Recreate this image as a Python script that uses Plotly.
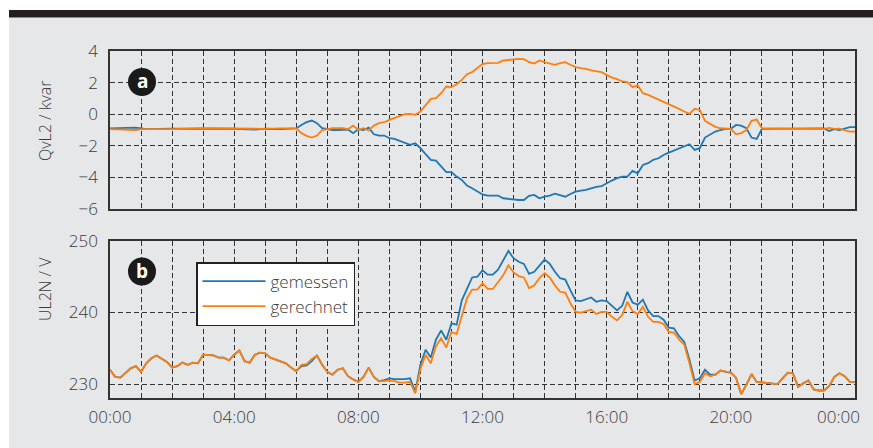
import plotly.graph_objects as go

# ---------------- data ----------------
# panel a: reactive power QvL2 (kvar)
times_a = ["00:00","00:50","01:00","01:10","02:00","03:00","03:30","04:00","04:40","05:00","05:30",
           "06:00","06:10","06:20","06:30","06:40","06:50","07:00","07:10","07:20","07:30","07:40","07:50",
           "08:00","08:10","08:20","08:30","08:40","08:50","09:00","09:10","09:20","09:30","09:40","09:50",
           "10:00","10:10","10:20","10:30","10:40","10:50","11:00","11:10","11:20","11:30","11:40","11:50",
           "12:00","12:10","12:20","12:30","12:40","12:50","13:00","13:10","13:20","13:30","13:40","13:50",
           "14:00","14:10","14:20","14:30","14:40","14:50","15:00","15:10","15:20","15:30","15:40","15:50",
           "16:00","16:10","16:20","16:30","16:40","16:50","17:00","17:10","17:20","17:30","17:40","17:50",
           "18:00","18:10","18:20","18:30","18:40","18:50","19:00","19:10","19:20","19:30","19:40","19:50",
           "20:00","20:10","20:20","20:30","20:40","20:50","21:00","22:00","23:00","23:10","23:20","23:30",
           "23:40","23:50","24:00"]
q_gemessen = [-0.90,-0.85,-0.90,-0.95,-0.92,-0.92,-0.90,-0.92,-0.98,-0.92,-0.95,
              -0.90,-0.68,-0.50,-0.40,-0.57,-0.89,-0.95,-1.00,-1.00,-0.97,-0.97,-1.20,
              -0.95,-1.00,-0.85,-1.27,-1.35,-1.35,-1.52,-1.56,-1.69,-1.84,-1.94,-1.84,
              -2.15,-2.53,-2.89,-2.94,-3.32,-3.67,-3.67,-3.95,-4.16,-4.52,-4.69,-4.90,
              -5.08,-5.15,-5.15,-5.15,-5.32,-5.36,-5.36,-5.43,-5.43,-5.17,-5.11,-5.32,
              -5.22,-5.15,-5.03,-5.13,-5.22,-5.05,-4.90,-4.84,-4.79,-4.69,-4.60,-4.56,
              -4.37,-4.20,-4.05,-3.95,-3.95,-3.59,-3.74,-3.21,-3.10,-2.89,-2.79,-2.58,
              -2.43,-2.30,-2.15,-2.00,-1.90,-2.26,-2.15,-1.48,-1.27,-1.10,-1.00,-0.93,
              -0.93,-0.68,-0.72,-0.89,-1.48,-1.56,-0.93,-0.92,-0.90,-1.06,-0.95,-1.00,
              -0.90,-0.82,-0.82]
q_gerechnet = [-0.95,-1.00,-0.95,-0.95,-0.95,-0.88,-0.90,-0.88,-0.90,-0.93,-0.90,
               -0.90,-1.20,-1.37,-1.48,-1.35,-1.00,-0.93,-0.89,-0.89,-0.89,-0.95,-0.72,
               -1.00,-0.89,-1.03,-0.72,-0.57,-0.51,-0.36,-0.25,-0.15,0.00,0.02,-0.04,
               0.17,0.55,0.97,1.01,1.33,1.75,1.71,1.90,2.17,2.53,2.66,2.92,
               3.17,3.23,3.25,3.25,3.40,3.44,3.44,3.50,3.48,3.29,3.21,3.40,
               3.29,3.23,3.13,3.23,3.29,3.13,2.98,2.91,2.87,2.77,2.70,2.66,
               2.49,2.32,2.22,2.07,2.03,1.71,1.82,1.33,1.22,1.08,0.91,0.76,
               0.63,0.49,0.34,0.17,0.02,0.34,0.27,-0.42,-0.63,-0.80,-0.89,-0.93,
               -0.93,-1.27,-1.20,-1.00,-0.42,-0.34,-0.89,-0.92,-0.93,-0.87,-0.93,-0.92,
               -1.00,-1.10,-1.10]

# panel b: voltage UL2N (V)
times_b = ["00:00","00:10","00:20","00:30","00:40","00:50","01:00","01:10","01:20","01:30","01:40","01:50",
           "02:00","02:10","02:20","02:30","02:40","02:50","03:00","03:10","03:20","03:30","03:40","03:50",
           "04:00","04:10","04:20","04:30","04:40","04:50","05:00","05:10","05:20","05:30","05:40","05:50",
           "06:00","06:10","06:20","06:30","06:40","06:50","07:00","07:10","07:20","07:30","07:40","07:50",
           "08:00","08:10","08:20","08:30","08:40","08:50","09:00","09:10","09:20","09:30","09:40","09:50",
           "10:00","10:10","10:20","10:30","10:40","10:50","11:00","11:10","11:20","11:30","11:40","11:50",
           "12:00","12:10","12:20","12:30","12:40","12:50","13:00","13:10","13:20","13:30","13:40","13:50",
           "14:00","14:10","14:20","14:30","14:40","14:50","15:00","15:10","15:20","15:30","15:40","15:50",
           "16:00","16:10","16:20","16:30","16:40","16:50","17:00","17:10","17:20","17:30","17:40","17:50",
           "18:00","18:10","18:20","18:30","18:40","18:50","19:00","19:10","19:20","19:30","19:40","19:50",
           "20:00","20:10","20:20","20:30","20:40","20:50","21:00","21:10","21:20","21:30","21:40","21:50",
           "22:00","22:10","22:20","22:30","22:40","22:50","23:00","23:10","23:20","23:30","23:40","23:50",
           "24:00"]
u_gemessen = [232.0,231.0,230.9,231.6,232.2,232.5,231.7,232.9,233.6,234.0,233.6,233.1,
              232.3,232.5,233.0,232.7,233.0,232.9,234.1,234.1,234.0,233.7,233.7,233.3,
              234.1,234.7,233.2,233.0,234.1,234.4,234.3,233.7,233.4,233.2,232.9,232.3,
              231.8,232.5,232.6,233.2,234.0,232.7,231.7,231.3,232.0,232.2,231.1,230.65,
              230.3,231.0,232.3,231.0,230.4,230.55,230.8,230.7,230.65,230.7,230.8,228.9,
              232.7,234.8,233.7,236.2,237.5,236.2,238.5,238.3,241.7,243.4,244.9,245.0,
              245.9,245.3,245.3,246.0,247.2,248.6,247.6,247.1,246.8,245.4,245.7,246.6,
              247.4,246.8,245.7,244.8,244.6,243.1,241.7,241.6,241.8,242.1,241.5,241.7,
              241.6,241.0,240.3,240.95,242.9,241.4,241.1,241.8,240.3,239.5,239.5,239.0,
              237.9,237.8,236.7,235.9,233.4,230.5,230.8,232.0,231.3,231.3,231.9,231.7,
              231.6,230.9,228.6,229.9,231.4,230.3,230.2,230.2,230.0,230.0,230.8,231.6,
              231.5,229.6,230.1,230.5,229.25,229.1,229.1,229.7,231.0,231.5,231.1,230.3,
              230.3]
u_gerechnet = [232.0,231.0,230.9,231.6,232.2,232.5,231.7,232.9,233.6,234.0,233.6,233.1,
               232.3,232.5,233.0,232.7,233.0,232.9,234.1,234.1,234.0,233.7,233.7,233.3,
               234.1,234.7,233.2,233.0,234.1,234.4,234.3,233.7,233.4,233.2,232.9,232.3,
               231.8,232.7,232.8,233.5,234.0,232.7,231.7,231.3,232.0,232.2,231.1,230.65,
               230.3,231.0,232.3,231.0,230.4,230.4,230.5,230.4,230.2,230.2,230.3,228.7,
               232.1,234.1,232.9,235.3,236.4,235.1,237.3,237.0,239.4,242.0,243.2,243.2,
               244.1,243.3,243.3,244.2,245.2,246.6,245.6,245.1,244.9,243.4,243.8,244.8,
               245.5,244.9,243.8,242.9,242.8,241.3,240.1,240.0,240.2,240.4,239.8,240.1,
               240.1,239.4,238.9,239.65,241.5,240.2,239.8,240.8,239.4,238.7,238.7,238.4,
               237.3,237.2,236.2,235.5,232.9,230.0,230.3,231.5,231.1,231.3,231.9,231.7,
               231.6,230.9,228.6,229.9,231.4,230.3,230.2,230.2,230.0,230.0,230.8,231.6,
               231.5,229.6,230.1,230.5,229.25,229.1,229.1,229.7,231.0,231.5,231.1,230.3,
               230.3]

hour_ticks = list(range(0, 25))
hour_labels = [f"{h:02d}:00" if (h % 4 == 0 and h < 24) else "" for h in hour_ticks]
end_label = "00:00"   # label for 24:00, shifted inside the figure like the reference
series_names = ["gemessen", "gerechnet"]
colors = ["#1f77b4", "#ff7f0e"]

def to_hours(ts):
    out = []
    for t in ts:
        hh, mm = t.split(":")
        out.append(int(hh) + int(mm) / 60.0)
    return out

xa = to_hours(times_a)
xb = to_hours(times_b)

W, H = 873, 448
FONT = "Open Sans"
TXT = "#3a3a3a"
TF = dict(family=FONT, size=17, color=TXT, weight=300)

fig = go.Figure()
fig.add_trace(go.Scatter(x=xa, y=q_gemessen, mode="lines", line=dict(color=colors[0], width=1.8),
                         xaxis="x", yaxis="y", showlegend=False, name=series_names[0]))
fig.add_trace(go.Scatter(x=xa, y=q_gerechnet, mode="lines", line=dict(color=colors[1], width=1.8),
                         xaxis="x", yaxis="y", showlegend=False, name=series_names[1]))
fig.add_trace(go.Scatter(x=xb, y=u_gemessen, mode="lines", line=dict(color=colors[0], width=1.8),
                         xaxis="x2", yaxis="y2", name=series_names[0]))
fig.add_trace(go.Scatter(x=xb, y=u_gerechnet, mode="lines", line=dict(color=colors[1], width=1.8),
                         xaxis="x2", yaxis="y2", name=series_names[1]))

def px(x): return x / W
def py(y): return (H - y) / H

L, R = 110, 855
grid = dict(showgrid=True, gridcolor="#333333", griddash="5px,3px", gridwidth=1.1,
            showline=True, linecolor="#333333", linewidth=1.5, mirror=True, zeroline=False,
            automargin=False, ticks="", tickfont=TF)

fig.update_layout(
    width=W, height=H,
    margin=dict(l=0, r=0, t=0, b=0, pad=0),
    paper_bgcolor="white", plot_bgcolor="white",
    font=dict(family=FONT, color=TXT),
    xaxis=dict(domain=[px(L), px(R)], anchor="y", range=[0, 24], tickvals=hour_ticks,
               ticktext=[""] * len(hour_ticks), **grid),
    yaxis=dict(domain=[py(209), py(51)], anchor="x", range=[-6, 4], tickvals=[-6, -4, -2, 0, 2, 4],
               ticklabelstandoff=7, **grid),
    xaxis2=dict(domain=[px(L), px(R)], anchor="y2", range=[0, 24], tickvals=hour_ticks,
                ticktext=hour_labels, ticklabelstandoff=3, **grid),
    yaxis2=dict(domain=[py(398), py(241)], anchor="x2", range=[228.05, 250], tickvals=[230, 240, 250],
                ticklabelstandoff=7, **grid),
    legend=dict(x=px(196), y=py(262), xanchor="left", yanchor="top", bgcolor="white",
                bordercolor="#222222", borderwidth=1.5, font=TF,
                itemwidth=63, tracegroupgap=0),
)

shapes = [
    dict(type="rect", xref="paper", yref="paper", x0=px(9), x1=1.0, y0=0, y1=py(17.5),
         fillcolor="#e6e7e8", line=dict(width=0), layer="below"),
    dict(type="rect", xref="paper", yref="paper", x0=px(9), x1=1.0, y0=py(17.5), y1=py(10),
         fillcolor="#231f20", line=dict(width=0), layer="below"),
]
for cy in (82, 271.5):
    shapes.append(dict(type="circle", xref="paper", yref="paper", x0=px(142 - 14), x1=px(142 + 14),
                       y0=py(cy + 14), y1=py(cy - 14), fillcolor="#1a1a1a", line=dict(width=0)))
fig.update_layout(shapes=shapes)

ann = dict(xref="paper", yref="paper", showarrow=False, xanchor="center", yanchor="middle")
annotations = [
    dict(text="a", x=px(142), y=py(81), font=dict(family=FONT, size=19, color="white", weight="bold"), **ann),
    dict(text="b", x=px(142), y=py(270.5), font=dict(family=FONT, size=19, color="white", weight="bold"), **ann),
    dict(text="QvL2 / kvar", x=px(45), y=py(121), textangle=-90,
         font=dict(family=FONT, size=16, color=TXT, weight=300), **ann),
    dict(text="UL2N / V", x=px(45), y=py(289), textangle=-90,
         font=dict(family=FONT, size=16, color=TXT, weight=300), **ann),
    dict(text=end_label, x=px(862), y=py(416), xref="paper", yref="paper", showarrow=False,
         xanchor="right", yanchor="middle", font=TF),
]
fig.update_layout(annotations=annotations)

fig.write_html("out.html", config={"displayModeBar": False},
               post_script="document.body.style.margin='0';document.body.style.padding='0';")
